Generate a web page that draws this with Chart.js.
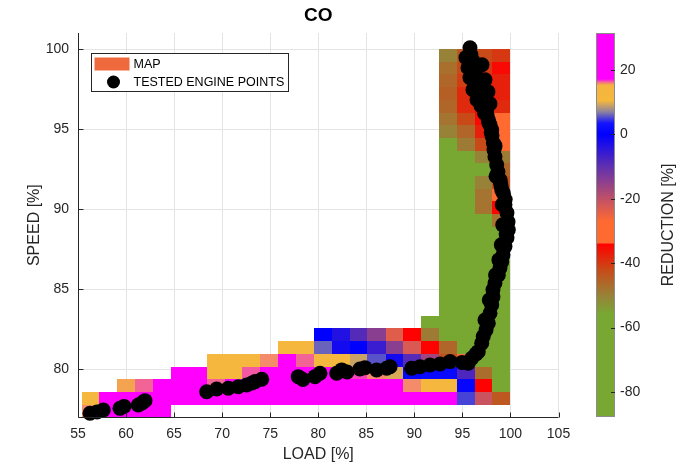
<!DOCTYPE html>
<html>
<head>
<meta charset="utf-8">
<title>CO</title>
<script src="https://cdn.jsdelivr.net/npm/chart.js@4.4.0/dist/chart.umd.min.js"></script>
<style>
  html, body { margin: 0; padding: 0; background: #fff; }
  canvas { display: block; }
</style>
</head>
<body>
<canvas id="coChart" width="694" height="468"></canvas>
<script>
const _ = null;

// map bin edges (load along x, speed along y)
const loadEdges = [55.4, 57.2, 59.1, 60.9, 62.8, 64.7, 66.5, 68.4, 70.3, 72.1, 73.9, 75.8, 77.7,
                   79.6, 81.4, 83.3, 85.1, 87.0, 88.8, 90.7, 92.6, 94.4, 96.3, 98.1, 100.0];
const speedEdges = [77.00, 77.79, 78.59, 79.38, 80.17, 80.97, 81.76, 82.55, 83.34, 84.14, 84.93,
                    85.72, 86.52, 87.31, 88.10, 88.90, 89.69, 90.48, 91.28, 92.07, 92.86, 93.66,
                    94.45, 95.24, 96.03, 96.83, 97.62, 98.41, 99.21, 100.00];

// CO reduction [%] per cell, bottom row first
const reduction = [
  [15.8, 22, 25, 25, 25, _, _, _, _, _, _, _, _, _, _, _, _, _, _, _, _, _, _, _],
  [12, 18, 25, 25, 25, 25, 25, 25, 25, 25, 21, 21, 25, 20, 20, 20, 25, 25, 25, 25, 25, 5, -21, -44],
  [_, _, 15.5, 16.3, 25, 25, 25, 16.3, 25, 25, 25, 25, 25, 25, 25, 22, 25, 25, 15.8, 12, 12, 1, -34.2, -70],
  [_, _, _, _, _, 25, 25, 12, 11.5, 16.4, 22, 25, 25, 25, 22, 16.6, 15.8, 9.5, 1, 1.5, 1.5, -8, -47, -70],
  [_, _, _, _, _, _, _, 12, 12, 12, 15.8, 25, 16.3, 12, 12, 9, 5.5, -2, -9, -16.7, -43, -30, -70, -70],
  [_, _, _, _, _, _, _, _, _, _, _, 12, 12, 6, -2, 0, -6, -14.4, -22.7, -34.2, -46, -70, -70, -70],
  [_, _, _, _, _, _, _, _, _, _, _, _, _, 0, -3.5, -8.8, -14.4, -23.5, -34.2, -49, -70, -70, -70, -70],
  [_, _, _, _, _, _, _, _, _, _, _, _, _, _, _, _, _, _, _, -70, -70, -70, -70, -70],
  [_, _, _, _, _, _, _, _, _, _, _, _, _, _, _, _, _, _, _, _, -70, -70, -70, -70],
  [_, _, _, _, _, _, _, _, _, _, _, _, _, _, _, _, _, _, _, _, -70, -70, -70, -70],
  [_, _, _, _, _, _, _, _, _, _, _, _, _, _, _, _, _, _, _, _, -70, -70, -70, -70],
  [_, _, _, _, _, _, _, _, _, _, _, _, _, _, _, _, _, _, _, _, -70, -70, -70, -70],
  [_, _, _, _, _, _, _, _, _, _, _, _, _, _, _, _, _, _, _, _, -70, -70, -70, -70],
  [_, _, _, _, _, _, _, _, _, _, _, _, _, _, _, _, _, _, _, _, -70, -70, -70, -70],
  [_, _, _, _, _, _, _, _, _, _, _, _, _, _, _, _, _, _, _, _, -70, -70, -70, -70],
  [_, _, _, _, _, _, _, _, _, _, _, _, _, _, _, _, _, _, _, _, -70, -70, -70, -48],
  [_, _, _, _, _, _, _, _, _, _, _, _, _, _, _, _, _, _, _, _, -70, -70, -48, -34.5],
  [_, _, _, _, _, _, _, _, _, _, _, _, _, _, _, _, _, _, _, _, -70, -70, -48, -30],
  [_, _, _, _, _, _, _, _, _, _, _, _, _, _, _, _, _, _, _, _, -70, -70, -50, -43],
  [_, _, _, _, _, _, _, _, _, _, _, _, _, _, _, _, _, _, _, _, -70, -70, -70, -46],
  [_, _, _, _, _, _, _, _, _, _, _, _, _, _, _, _, _, _, _, _, -70, -70, -50, -49],
  [_, _, _, _, _, _, _, _, _, _, _, _, _, _, _, _, _, _, _, _, -70, -49, -42, -30],
  [_, _, _, _, _, _, _, _, _, _, _, _, _, _, _, _, _, _, _, _, -50, -46, -37.5, -30],
  [_, _, _, _, _, _, _, _, _, _, _, _, _, _, _, _, _, _, _, _, -48, -42, -35, -30],
  [_, _, _, _, _, _, _, _, _, _, _, _, _, _, _, _, _, _, _, _, -46, -38.5, -34.2, -38.5],
  [_, _, _, _, _, _, _, _, _, _, _, _, _, _, _, _, _, _, _, _, -45, -38.5, -35, -37.5],
  [_, _, _, _, _, _, _, _, _, _, _, _, _, _, _, _, _, _, _, _, -46, -40.8, -37.5, -37.5],
  [_, _, _, _, _, _, _, _, _, _, _, _, _, _, _, _, _, _, _, _, -47.3, -42, -40, -35],
  [_, _, _, _, _, _, _, _, _, _, _, _, _, _, _, _, _, _, _, _, -50, -44, -42, -40]
];

// tested engine points
const pointLoad = [56.25, 56.98, 57.63, 59.37, 59.79, 61.27, 61.66, 61.97,
  68.39, 69.43, 70.64, 71.68, 72.55, 73.11, 73.42, 74.12,
  77.92, 78.41, 79.66, 80.18, 81.92, 82.44, 82.99, 84.34, 84.86, 86.08, 87.12, 87.47,
  89.72, 90.59, 91.63, 92.67, 93.71, 94.96, 95.61, 95.97, 96.42, 96.65, 97.01, 97.17,
  97.46, 97.69, 97.87, 98.05, 98.18, 98.18, 98.39, 98.74, 98.91, 99.09, 99.22, 99.43,
  99.64, 99.78, 99.75, 99.64, 99.43, 99.26, 99.02, 98.91, 98.70, 98.57, 98.39, 98.29,
  98.22, 98.08, 98.05, 97.87, 97.69, 97.56, 97.53, 97.35, 97.14, 96.83, 96.62, 96.49,
  96.31, 96.13, 95.89, 95.79,
  95.37, 95.58, 95.79, 96.10, 96.52, 96.93, 97.04, 97.35, 97.66, 97.87,
  99.10, 99.15, 99.20, 99.05, 98.80, 98.45, 97.80, 97.35,
  98.50, 98.95, 99.45, 99.55, 98.40, 98.00, 97.75, 97.30, 96.95];
const pointSpeed = [77.25, 77.33, 77.46, 77.56, 77.68, 77.77, 77.89, 78.04,
  78.60, 78.77, 78.81, 78.91, 79.02, 79.14, 79.23, 79.38,
  79.54, 79.36, 79.54, 79.75, 79.75, 79.96, 79.83, 80.02, 80.10, 79.96, 80.06, 80.16,
  80.06, 80.16, 80.27, 80.33, 80.48, 80.43, 80.38, 80.69, 80.96, 81.10, 81.63, 82.04,
  82.46, 82.88, 83.50, 84.02, 84.52, 84.96, 85.39, 85.89, 86.33, 86.71, 87.14, 87.66,
  88.21, 88.71, 89.21, 89.77, 90.27, 91.00, 91.46, 91.83, 92.33, 92.77, 93.27, 93.71,
  94.13, 94.58, 94.96, 95.27, 95.58, 95.89, 96.21, 96.64, 97.02, 97.46, 97.83, 98.27,
  98.71, 99.21, 99.64, 100.08,
  99.46, 98.83, 98.21, 97.46, 96.83, 96.46, 99.02, 98.08, 97.33, 96.58,
  91.19, 90.27, 89.02, 87.77, 86.83, 85.89, 84.33, 83.08,
  92.05, 91.70, 90.60, 88.45, 93.95, 94.80, 95.40, 96.00, 96.90];

const xTicks = [55, 60, 65, 70, 75, 80, 85, 90, 95, 100, 105];
const yTicks = [80, 85, 90, 95, 100];
const cbTicks = [20, 0, -20, -40, -60, -80];
const colorLimits = [-87.8, 31.5];

const cmapStops = [
  [31.5, [255, 0, 255]], [17.2, [255, 0, 255]], [16.3, [242, 100, 150]], [15.3, [245, 180, 64]],
  [10.5, [245, 184, 60]], [7, [140, 130, 160]], [3.5, [20, 20, 255]], [0, [0, 0, 255]],
  [-10, [96, 48, 176]], [-20, [192, 80, 104]], [-27, [255, 106, 48]], [-33.8, [255, 106, 48]],
  [-34, [255, 0, 0]], [-42, [200, 74, 24]], [-50, [152, 130, 56]], [-56, [120, 168, 50]],
  [-87.8, [120, 168, 50]]
];

function colorFor(v) {
  if (v >= cmapStops[0][0]) return 'rgb(' + cmapStops[0][1].join(',') + ')';
  for (let i = 0; i < cmapStops.length - 1; i++) {
    const [v0, c0] = cmapStops[i];
    const [v1, c1] = cmapStops[i + 1];
    if (v <= v0 && v >= v1) {
      const t = (v0 - v) / (v0 - v1);
      const c = c0.map((a, k) => Math.round(a + (c1[k] - a) * t));
      return 'rgb(' + c.join(',') + ')';
    }
  }
  return 'rgb(' + cmapStops[cmapStops.length - 1][1].join(',') + ')';
}

const FONT = '"Liberation Sans", Arial, Helvetica, sans-serif';
const TEXT = '#262626';

const mapPlugin = {
  id: 'coMap',
  beforeDatasetsDraw(chart) {
    const { ctx, chartArea, scales: { x, y } } = chart;
    ctx.save();
    ctx.beginPath();
    ctx.rect(chartArea.left, chartArea.top, chartArea.right - chartArea.left, chartArea.bottom - chartArea.top);
    ctx.clip();
    reduction.forEach((row, r) => {
      row.forEach((v, c) => {
        if (v === null) return;
        const x0 = Math.round(x.getPixelForValue(loadEdges[c]));
        const x1 = Math.round(x.getPixelForValue(loadEdges[c + 1]));
        const y0 = Math.round(y.getPixelForValue(speedEdges[r + 1]));
        const y1 = Math.round(y.getPixelForValue(speedEdges[r]));
        ctx.fillStyle = colorFor(v);
        ctx.fillRect(x0, y0, x1 - x0, y1 - y0);
      });
    });
    ctx.restore();
  },
  afterDraw(chart) {
    const { ctx, chartArea, scales: { x, y } } = chart;
    ctx.save();

    // axes lines and inward ticks
    ctx.strokeStyle = TEXT;
    ctx.lineWidth = 1;
    ctx.beginPath();
    const by = Math.round(chartArea.bottom) + 0.5;
    const lx = Math.round(chartArea.left) + 0.5;
    ctx.moveTo(lx, chartArea.top);
    ctx.lineTo(lx, by);
    ctx.lineTo(chartArea.right, by);
    xTicks.forEach(t => {
      const px = Math.round(x.getPixelForValue(t)) + 0.5;
      ctx.moveTo(px, by);
      ctx.lineTo(px, by - 5);
    });
    yTicks.forEach(t => {
      const py = Math.round(y.getPixelForValue(t)) + 0.5;
      ctx.moveTo(lx, py);
      ctx.lineTo(lx + 5, py);
    });
    ctx.stroke();

    // title
    ctx.fillStyle = '#000';
    ctx.font = 'bold 19px ' + FONT;
    ctx.textAlign = 'center';
    ctx.textBaseline = 'middle';
    ctx.fillText('CO', (chartArea.left + chartArea.right) / 2, 16);

    // legend
    const lgX = chartArea.left + 13.5, lgY = chartArea.top + 20.5;
    ctx.fillStyle = '#fff';
    ctx.fillRect(lgX, lgY, 197, 38);
    ctx.strokeStyle = '#262626';
    ctx.strokeRect(lgX, lgY, 197, 38);
    ctx.fillStyle = 'rgb(240,105,60)';
    ctx.fillRect(lgX + 3, lgY + 4, 35, 13);
    ctx.fillStyle = '#000';
    ctx.beginPath();
    ctx.arc(lgX + 22, lgY + 28.5, 6.5, 0, Math.PI * 2);
    ctx.fill();
    ctx.font = '12.5px ' + FONT;
    ctx.textAlign = 'left';
    ctx.fillText('MAP', lgX + 42, lgY + 11);
    ctx.fillText('TESTED ENGINE POINTS', lgX + 42, lgY + 29);

    // colorbar
    const cbL = Math.round(chartArea.right) + 37;
    const cbW = 19;
    const cbT = Math.round(chartArea.top);
    const cbB = Math.round(chartArea.bottom);
    const [cmin, cmax] = colorLimits;
    const toPx = v => cbB - (v - cmin) / (cmax - cmin) * (cbB - cbT);
    for (let py = cbT; py < cbB; py++) {
      const v = cmax - (py + 0.5 - cbT) / (cbB - cbT) * (cmax - cmin);
      ctx.fillStyle = colorFor(v);
      ctx.fillRect(cbL, py, cbW, 1);
    }
    ctx.strokeStyle = '#8c8c8c';
    ctx.strokeRect(cbL + 0.5, cbT + 0.5, cbW - 1, cbB - cbT - 1);
    ctx.strokeStyle = TEXT;
    ctx.beginPath();
    cbTicks.forEach(t => {
      const py = Math.round(toPx(t)) + 0.5;
      ctx.moveTo(cbL + cbW, py);
      ctx.lineTo(cbL + cbW - 4, py);
    });
    ctx.stroke();
    ctx.fillStyle = TEXT;
    ctx.font = '14px ' + FONT;
    ctx.textAlign = 'left';
    ctx.textBaseline = 'middle';
    cbTicks.forEach(t => ctx.fillText(String(t), cbL + cbW + 5, toPx(t)));

    ctx.translate(cbL + 73, (cbT + cbB) / 2);
    ctx.rotate(-Math.PI / 2);
    ctx.textAlign = 'center';
    ctx.font = '16px ' + FONT;
    ctx.fillText('REDUCTION [%]', 0, 0);
    ctx.restore();
  }
};

const ctx = document.getElementById('coChart').getContext('2d');
const chart = new Chart(ctx, {
    type: 'scatter',
    data: {
        datasets: [{
            label: 'TESTED ENGINE POINTS',
            data: pointLoad.map((v, i) => ({ x: v, y: pointSpeed[i] })),
            backgroundColor: '#000',
            borderColor: '#000',
            borderWidth: 0,
            pointRadius: 7.5,
            pointHoverRadius: 7.5,
            clip: false
        }]
    },
    options: {
        responsive: false,
        animation: false,
        devicePixelRatio: 1,
        layout: { padding: { top: 33, right: 135.5, bottom: 0, left: 0 } },
        plugins: {
            legend: { display: false },
            tooltip: { enabled: false }
        },
        scales: {
            x: {
                type: 'linear',
                min: 55,
                max: 105,
                afterBuildTicks: s => { s.ticks = xTicks.map(v => ({ value: v })); },
                afterFit: s => { s.height = 50.7; },
                grid: { color: '#e4e4e4', drawTicks: false },
                border: { display: false },
                ticks: { color: TEXT, font: { family: FONT, size: 14 }, padding: 8, maxRotation: 0 },
                title: {
                    display: true,
                    text: 'LOAD [%]',
                    color: TEXT,
                    font: { family: FONT, size: 16 },
                    padding: { top: 4, bottom: 3.4 }
                }
            },
            y: {
                type: 'linear',
                min: 77,
                max: 101,
                afterBuildTicks: s => { s.ticks = yTicks.map(v => ({ value: v })); },
                afterFit: s => { s.width = 78; },
                grid: { color: '#e4e4e4', drawTicks: false },
                border: { display: false },
                ticks: { color: TEXT, font: { family: FONT, size: 14 }, padding: 9 },
                title: {
                    display: true,
                    text: 'SPEED [%]',
                    color: TEXT,
                    font: { family: FONT, size: 16 },
                    padding: { top: 25.4, bottom: 0 }
                }
            }
        }
    },
    plugins: [mapPlugin]
});
</script>
</body>
</html>
